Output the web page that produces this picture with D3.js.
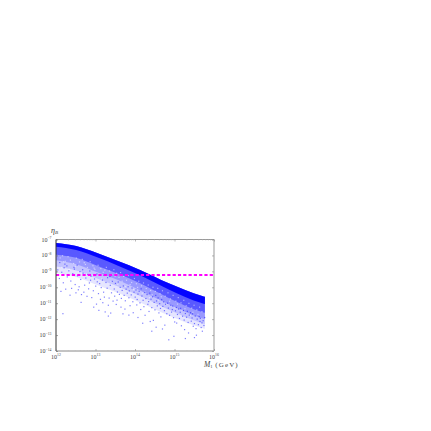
<!DOCTYPE html>
<html>
<head>
<meta charset="utf-8">
<script src="https://cdn.jsdelivr.net/npm/d3@7"></script>
<style>
  html, body { margin: 0; padding: 0; background: #fff; }
  svg { display: block; }
  text { font-family: "Liberation Serif", serif; fill: #444; }
</style>
</head>
<body>
<div id="chart"></div>
<script>
// all values are log10 of the quantity
const xTickExp = [12, 13, 14, 15, 16];
const yTickExp = [-7, -8, -9, -10, -11, -12, -13, -14];
const observedEta = -9.23;

// edges of the filled part of the cloud, thinnest last
const bandM = [12, 12.51, 13.04, 13.57, 14.13, 14.84, 15.7, 15.77];
const bandTop = [-7.22, -7.41, -7.85, -8.35, -8.91, -9.73, -10.55, -10.6];
const bandSolid = [-7.45, -7.66, -8.12, -8.65, -9.25, -10.12, -11.0, -11.05];
const bandDense = [-7.95, -8.15, -8.65, -9.15, -9.75, -10.65, -11.55, -11.6];
const bandMid = [-8.3, -8.55, -9.05, -9.55, -10.2, -11.05, -11.95, -12.0];
const bandThin = [-8.7, -8.95, -9.45, -9.95, -10.55, -11.4, -12.25, -12.3];
const bandFaint = [-9.1, -9.35, -9.85, -10.35, -10.95, -11.75, -12.55, -12.6];

// loose points around and below the cloud
const loosePoints = [
  [12.03,-8.87],[12.07,-9.41],[12.11,-10.22],[12.13,-9.02],[12.17,-9.68],[12.19,-8.74],[12.23,-10.08],[12.16,-11.62],[12.27,-9.31],[12.31,-8.93],
  [12.34,-10.46],[12.36,-9.57],[12.41,-9.11],[12.38,-10.03],[12.45,-8.82],[12.47,-9.79],[12.49,-10.31],[12.53,-9.24],[12.57,-9.93],[12.55,-10.12],
  [12.61,-9.47],[12.59,-8.98],[12.63,-10.42],[12.67,-9.08],[12.71,-9.83],[12.69,-10.27],[12.74,-9.38],[12.77,-10.53],[12.79,-9.16],[12.83,-9.69],
  [12.81,-10.06],[12.86,-9.52],[12.89,-10.61],[12.87,-9.27],[12.93,-10.18],[12.96,-9.44],[12.99,-9.89],[13.01,-11.02],[13.03,-9.62],[13.06,-10.36],
  [13.09,-9.73],[13.11,-10.72],[13.07,-11.41],[13.13,-9.98],[13.16,-9.51],[13.19,-10.27],[13.21,-10.58],[13.25,-9.66],[13.23,-11.51],[13.28,-10.02],
  [13.29,-9.36],[13.33,-10.64],[13.31,-11.09],[13.36,-9.84],[13.39,-10.31],[13.41,-9.59],[13.37,-11.58],[13.43,-10.83],[13.46,-10.07],[13.49,-9.72],
  [13.47,-10.52],[13.51,-11.04],[13.54,-10.26],[13.56,-9.63],[13.53,-10.77],[13.59,-10.41],[13.61,-9.97],[13.63,-11.21],[13.66,-10.16],[13.64,-10.66],
  [13.69,-9.88],[13.71,-10.47],[13.73,-11.33],[13.76,-10.08],[13.74,-10.81],[13.79,-10.33],[13.81,-9.93],[13.83,-10.62],[13.86,-11.12],[13.84,-10.19],
  [13.89,-10.44],[13.91,-10.01],[13.93,-10.87],[13.96,-10.27],[13.94,-11.56],[13.99,-10.58],[14.01,-10.13],[14.03,-11.07],[14.06,-10.39],[14.04,-10.73],
  [14.09,-10.21],[14.11,-10.94],[14.13,-11.36],[14.16,-10.51],[14.14,-10.06],[14.19,-10.78],[14.21,-11.18],[14.23,-10.29],[14.26,-10.67],[14.24,-11.72],
  [14.29,-10.42],[14.31,-11.03],[14.33,-10.86],[14.36,-10.33],[14.34,-11.48],[14.39,-10.71],[14.41,-11.24],[14.43,-10.56],[14.45,-12.04],[14.47,-10.91],
  [14.49,-11.38],[14.51,-10.47],[14.53,-10.82],[14.55,-11.13],[14.52,-12.47],[14.57,-10.63],[14.59,-11.57],[14.61,-10.99],[14.63,-11.29],[14.66,-10.74],
  [14.64,-11.82],[14.69,-11.16],[14.71,-10.88],[14.73,-11.43],[14.76,-11.03],[14.74,-12.34],[14.79,-11.62],[14.81,-10.96],[14.83,-11.27],[14.86,-11.72],
  [14.84,-13.26],[14.89,-11.09],[14.91,-11.52],[14.93,-11.36],[14.96,-11.87],[14.94,-11.14],[14.99,-12.14],[15.01,-11.44],[15.03,-11.23],[15.06,-11.67],
  [15.04,-12.21],[15.09,-11.33],[15.11,-11.92],[15.13,-11.53],[15.16,-12.38],[15.14,-11.28],[15.19,-11.78],[15.21,-11.42],[15.23,-12.02],[15.26,-11.61],
  [15.24,-12.62],[15.29,-11.84],[15.31,-11.47],[15.33,-12.17],[15.36,-11.71],[15.34,-12.83],[15.39,-11.56],[15.41,-12.09],[15.43,-11.89],[15.46,-12.41],
  [15.44,-11.63],[15.49,-12.24],[15.51,-11.77],[15.53,-12.56],[15.56,-11.96],[15.54,-12.97],[15.59,-12.31],[15.61,-11.81],[15.63,-12.11],[15.66,-12.49],
  [15.64,-11.91],[15.69,-12.72],[15.71,-12.06],[15.73,-12.36],[15.75,-11.86],[15.68,-12.2],[14.41,-12.72],[14.97,-13.04],[15.26,-13.18],[15.49,-13.12],
  [12.62,-10.91],[12.94,-11.21],[13.31,-11.77],[13.17,-10.93],[13.68,-11.63],[13.83,-11.71],[14.06,-11.86],[14.18,-12.22],[14.37,-12.11],[14.68,-12.58],
  [12.08,-8.41],[12.26,-8.62],[12.44,-8.71],[12.21,-8.51],[12.66,-8.86],[12.52,-8.57],[12.84,-8.94],[13.02,-9.13],[13.2,-9.22],[13.35,-9.29]
];

// pale specks that break up the filled bands
const gapPoints = [
  [12.09,-8.12],[12.15,-7.98],[12.22,-8.33],[12.29,-8.04],[12.35,-8.26],[12.43,-8.47],[12.5,-8.13],[12.58,-8.37],[12.65,-8.21],[12.73,-8.53],
  [12.78,-8.72],[12.85,-8.36],[12.92,-8.61],[12.97,-8.84],[13.05,-8.58],[13.12,-8.79],[13.18,-9.02],[13.26,-8.71],[13.34,-8.94],[13.4,-9.17],
  [13.45,-8.86],[13.52,-9.08],[13.58,-9.34],[13.62,-9.04],[13.7,-9.28],[13.77,-9.52],[13.82,-9.23],[13.9,-9.66],[13.97,-9.41],[14.02,-9.74],
  [14.08,-9.58],[14.15,-9.87],[14.2,-9.69],[14.27,-10.04],[14.32,-9.82],[14.38,-10.16],[14.44,-9.96],[14.5,-10.22],[14.56,-10.03],[14.62,-10.37],
  [14.68,-10.18],[14.75,-10.52],[14.82,-10.31],[14.88,-10.69],[14.95,-10.47],[15.02,-10.83],[15.08,-10.61],[15.15,-10.94],[15.22,-10.78],[15.28,-11.12],
  [15.35,-10.97],[15.42,-11.27],[15.48,-11.09],[15.55,-11.38],[15.62,-11.21],[15.68,-11.49],[12.13,-8.71],[12.32,-8.83],[12.56,-8.99],[12.76,-9.12],
  [12.91,-9.21],[13.14,-9.44],[13.38,-9.61],[13.55,-9.78],[13.74,-9.92],[13.95,-10.11],[14.17,-10.33],[14.35,-10.62],[14.58,-10.77],[14.79,-11.04],
  [15.0,-11.26],[15.18,-11.41],[15.38,-11.73],[15.58,-11.66],[12.18,-8.36],[12.47,-8.66],[12.7,-8.42],[12.95,-8.76],[13.22,-8.88],[13.48,-9.27],
  [13.66,-9.58],[13.86,-9.79],[14.05,-9.97],[14.24,-10.26],[14.42,-10.43],[14.65,-10.56],[14.86,-10.84],[15.06,-11.02],[15.25,-11.31],[15.45,-11.53]
];

const xAxisMinor = [2, 3, 4, 5, 6, 7, 8, 9];

const width = 431, height = 431;
const plotLeft = 56, plotRight = 214, plotTop = 239.5, plotBottom = 351;

const svg = d3.select('#chart').append('svg')
  .attr('width', width)
  .attr('height', height);

const x = d3.scaleLog().domain([1e12, 1e16]).range([plotLeft, plotRight]);
const y = d3.scaleLog().domain([1e-7, 1e-14]).range([plotTop, plotBottom]);
const px = e => x(Math.pow(10, e));
const py = e => y(Math.pow(10, e));

// cloud
function band(lower, opacity) {
  const area = d3.area()
    .curve(d3.curveMonotoneX)
    .x((d, i) => px(bandM[i]))
    .y0((d, i) => py(lower[i]))
    .y1((d, i) => py(bandTop[i]));
  svg.append('path')
    .attr('d', area(bandM))
    .attr('fill', '#0000ff')
    .attr('fill-opacity', opacity);
}
band(bandFaint, 0.1);
band(bandThin, 0.14);
band(bandMid, 0.22);
band(bandDense, 0.42);
band(bandSolid, 0.95);

svg.append('g').selectAll('rect.gap')
  .data(gapPoints)
  .join('rect')
  .attr('class', 'gap')
  .attr('x', d => px(d[0]))
  .attr('y', d => py(d[1]))
  .attr('width', 1.2)
  .attr('height', 1.2)
  .attr('fill', '#fff')
  .attr('fill-opacity', 0.5);

svg.append('g').selectAll('rect.pt')
  .data(loosePoints)
  .join('rect')
  .attr('class', 'pt')
  .attr('x', d => px(d[0]))
  .attr('y', d => py(d[1]))
  .attr('width', 1.2)
  .attr('height', 1.2)
  .attr('fill', '#0000ff')
  .attr('fill-opacity', 0.5);

// observed value
svg.append('line')
  .attr('x1', px(12))
  .attr('x2', px(16))
  .attr('y1', py(observedEta))
  .attr('y2', py(observedEta))
  .attr('stroke', '#ff00ff')
  .attr('stroke-width', 2)
  .attr('stroke-dasharray', '3.2 2.1');

// frame
const frame = [
  [plotLeft, plotTop, plotRight, plotTop, '#999'],
  [plotRight, plotTop, plotRight, plotBottom, '#999'],
  [plotLeft, plotBottom, plotRight, plotBottom, '#888'],
  [plotLeft, plotTop, plotLeft, plotBottom, '#333']
];
svg.append('g').selectAll('line')
  .data(frame)
  .join('line')
  .attr('x1', d => d[0]).attr('y1', d => d[1])
  .attr('x2', d => d[2]).attr('y2', d => d[3])
  .attr('stroke', d => d[4])
  .attr('stroke-width', 1);

// ticks, with the minor ones on the mass axis
const xMinor = xTickExp.slice(0, -1).flatMap(e => xAxisMinor.map(m => m * Math.pow(10, e)));
const xMajor = xTickExp.map(e => Math.pow(10, e));
const yMajor = yTickExp.map(e => Math.pow(10, e));

function tickMarks(axis, pos, size, color) {
  svg.append('g')
    .attr('transform', 'translate(0,' + pos + ')')
    .call(axis.tickSize(size).tickFormat('').tickSizeOuter(0))
    .call(g => g.select('.domain').remove())
    .call(g => g.selectAll('line').attr('stroke', color).attr('stroke-width', 0.6));
}
tickMarks(d3.axisTop(x).tickValues(xMajor), plotBottom, 2, '#888');
tickMarks(d3.axisBottom(x).tickValues(xMajor), plotTop, 2, '#888');
tickMarks(d3.axisTop(x).tickValues(xMinor), plotBottom, 1, '#bbb');
tickMarks(d3.axisBottom(x).tickValues(xMinor), plotTop, 1, '#bbb');

svg.append('g')
  .attr('transform', 'translate(' + plotRight + ',0)')
  .call(d3.axisLeft(y).tickValues(yMajor).tickSize(2).tickFormat(''))
  .call(g => g.select('.domain').remove())
  .call(g => g.selectAll('line').attr('stroke', '#888').attr('stroke-width', 0.6));
svg.append('g')
  .attr('transform', 'translate(' + plotLeft + ',0)')
  .call(d3.axisRight(y).tickValues(yMajor).tickSize(2).tickFormat(''))
  .call(g => g.select('.domain').remove())
  .call(g => g.selectAll('line').attr('stroke', '#666').attr('stroke-width', 0.6));

// tick labels
function powerLabel(sel, exp) {
  sel.append('tspan').text('10').attr('font-size', 6);
  sel.append('tspan').text(exp).attr('font-size', 3.8).attr('dy', -2.2);
}
svg.append('g').selectAll('text')
  .data(xTickExp)
  .join('text')
  .attr('x', d => px(d))
  .attr('y', 358.5)
  .attr('text-anchor', 'middle')
  .each(function(d) { powerLabel(d3.select(this), d); });

svg.append('g').selectAll('text')
  .data(yTickExp)
  .join('text')
  .attr('x', 51.5)
  .attr('y', d => py(d) + 2)
  .attr('text-anchor', 'end')
  .each(function(d) { powerLabel(d3.select(this), '\u2212' + Math.abs(d)); });

// axis titles
const yTitle = svg.append('text').attr('x', 51).attr('y', 232.5).attr('font-style', 'italic');
yTitle.append('tspan').text('\u03b7').attr('font-size', 8);
yTitle.append('tspan').text('B').attr('font-size', 5).attr('dy', 1.5);

const xTitle = svg.append('text').attr('x', 204).attr('y', 366.5);
xTitle.append('tspan').text('M').attr('font-size', 7.5).attr('font-style', 'italic');
xTitle.append('tspan').text('1').attr('font-size', 4.5).attr('dy', 1.2);
xTitle.append('tspan').text(' (GeV)').attr('font-size', 7).attr('dy', -1.2).attr('letter-spacing', 1.1);
</script>
</body>
</html>
